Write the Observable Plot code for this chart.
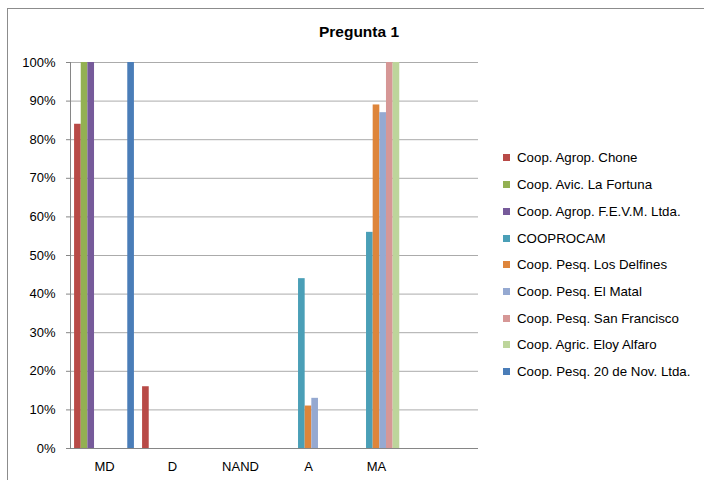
<!DOCTYPE html>
<html><head><meta charset="utf-8">
<script src="https://cdn.jsdelivr.net/npm/d3@7"></script>
<script src="https://cdn.jsdelivr.net/npm/@observablehq/plot@0.6"></script>
<style>
body{margin:0;width:704px;height:480px;overflow:hidden;background:#fff;font-family:"Liberation Sans",Arial,sans-serif;}
#wrap{position:relative;width:704px;height:480px;overflow:hidden;}
#border{position:absolute;left:7px;top:8px;width:800px;height:600px;border:1px solid #8c8c8c;}
#chart{position:absolute;left:0;top:0;}
#title{position:absolute;left:0;top:23px;width:718px;text-align:center;font-weight:bold;font-size:15.5px;color:#000;}
#legend{position:absolute;left:503px;top:144.6px;font-size:13.3px;color:#000;}
.item{height:26.7px;display:flex;align-items:center;white-space:nowrap;}
.sw{width:7px;height:7px;margin-right:7px;flex:none;}
</style>
</head><body>
<div id="wrap">
  <div id="border"></div>
  <div id="chart"></div>
  <div id="title">Pregunta 1</div>
  <div id="legend"></div>
</div>
<script>
// Categories (x axis)
const categories = ["MD", "D", "NAND", "A", "MA"];
// Series names (legend order)
const seriesNames = [
  "Coop. Agrop. Chone",
  "Coop. Avic. La Fortuna",
  "Coop. Agrop. F.E.V.M. Ltda.",
  "COOPROCAM",
  "Coop. Pesq. Los Delfines",
  "Coop. Pesq. El Matal",
  "Coop. Pesq. San Francisco",
  "Coop. Agric. Eloy Alfaro",
  "Coop. Pesq. 20 de Nov. Ltda."
];
// Values per series, one per category (percent)
const chone        = [84, 16, 0, 0, 0];
const laFortuna    = [100, 0, 0, 0, 0];
const fevm         = [100, 0, 0, 0, 0];
const cooprocam    = [0, 0, 0, 44, 56];
const losDelfines  = [0, 0, 0, 11, 89];
const elMatal      = [0, 0, 0, 13, 87];
const sanFrancisco = [0, 0, 0, 0, 100];
const eloyAlfaro   = [0, 0, 0, 0, 100];
const nov20        = [100, 0, 0, 0, 0];
const seriesValues = [chone, laFortuna, fevm, cooprocam, losDelfines, elMatal, sanFrancisco, eloyAlfaro, nov20];
// Colors
const colors = ["#B84A47", "#93B052", "#765A9A", "#4A9FB7", "#DE853B", "#95A9D1", "#D69796", "#BDD59B", "#4A7DB8"];
// Y tick values
const yTicks = [0, 10, 20, 30, 40, 50, 60, 70, 80, 90, 100];

const nSlots = categories.length + 1; // trailing empty category slot as in the original
const groupPad = 0.06, groupWidth = 0.88;
const barW = groupWidth / seriesNames.length;

const rows = [];
categories.forEach((c, i) => {
  seriesNames.forEach((s, j) => {
    const v = seriesValues[j][i];
    if (v > 0) rows.push({cat: c, i, j, series: s, v});
  });
});

const chart = Plot.plot({
  width: 704,
  height: 480,
  marginLeft: 70,
  marginRight: 226,
  marginTop: 62,
  marginBottom: 32,
  style: {fontFamily: "'Liberation Sans', Arial, sans-serif", fontSize: "13px", color: "#000", background: "transparent"},
  x: {domain: [0, nSlots]},
  y: {domain: [0, 100]},
  color: {domain: seriesNames, range: colors},
  marks: [
    Plot.ruleY(yTicks.filter(t => t > 0), {stroke: "#ababab", strokeWidth: 1}),
    Plot.rect(rows, {
      x1: d => d.i + groupPad + d.j * barW,
      x2: d => d.i + groupPad + (d.j + 1) * barW,
      y1: 0,
      y2: "v",
      fill: "series"
    }),
    Plot.ruleY([0], {stroke: "#868686"}),
    Plot.ruleX([0], {stroke: "#868686"}),
    Plot.axisY({ticks: yTicks, tickFormat: d => d + "%", tickSize: 4, tickPadding: 11, stroke: "#868686", label: null}),
    Plot.axisX({ticks: categories.map((c, i) => i + 0.5), tickFormat: t => categories[Math.floor(t)], tickSize: 0, tickPadding: 13, label: null})
  ]
});
document.getElementById("chart").appendChild(chart);

const legend = document.getElementById("legend");
seriesNames.forEach((s, j) => {
  const item = document.createElement("div");
  item.className = "item";
  const sw = document.createElement("span");
  sw.className = "sw";
  sw.style.background = colors[j];
  const t = document.createElement("span");
  t.textContent = s;
  item.appendChild(sw);
  item.appendChild(t);
  legend.appendChild(item);
});
</script>
</body></html>
